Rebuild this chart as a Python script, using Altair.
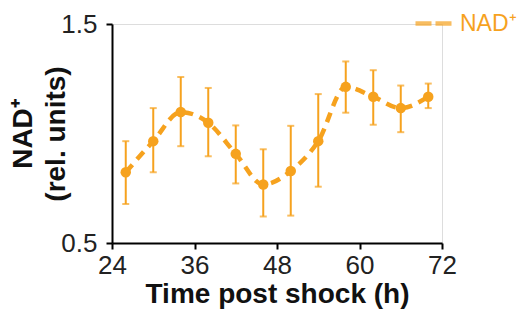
import altair as alt
import pandas as pd

time_h = [26, 30, 34, 38, 42, 46, 50, 54, 58, 62, 66, 70]
nad_mean = [0.823, 0.965, 1.098, 1.049, 0.907, 0.767, 0.829, 0.965, 1.213, 1.168, 1.116, 1.168]
nad_upper = [0.965, 1.116, 1.258, 1.208, 1.037, 0.928, 1.035, 1.180, 1.329, 1.289, 1.219, 1.228]
nad_lower = [0.678, 0.823, 0.942, 0.896, 0.772, 0.621, 0.625, 0.757, 1.095, 1.040, 1.006, 1.116]
series = ["NAD⁺"] * len(time_h)

x_ticks = [24, 36, 48, 60, 72]
y_ticks = [0.5, 1.5]

ORANGE = "#F6A21E"

df = pd.DataFrame({"t": time_h, "m": nad_mean, "hi": nad_upper, "lo": nad_lower, "s": series})

xs = alt.Scale(domain=[24, 72], nice=False, zero=False)
ys = alt.Scale(domain=[0.5, 1.5], nice=False, zero=False)
color = alt.Color("s:N", scale=alt.Scale(domain=["NAD⁺"], range=[ORANGE]),
                  legend=alt.Legend(title=None, orient="none", legendX=301, legendY=-21,
                                    padding=0,
                                    symbolType="stroke", symbolDash=[16, 4], symbolStrokeWidth=4.5,
                                    symbolSize=1296, symbolStrokeColor=ORANGE,
                                    labelColor=ORANGE, labelFontSize=23,
                                    labelFont="Liberation Sans", labelOffset=6))

x_enc = alt.X("t:Q", scale=xs,
              axis=alt.Axis(values=x_ticks, title="Time post shock (h)", tickSize=6,
                            labelFlush=False, labelPadding=3, titlePadding=2))
y_enc = alt.Y("m:Q", scale=ys,
              axis=alt.Axis(values=y_ticks, title=["NAD⁺", "(rel. units)"], tickSize=6,
                            labelPadding=9, titleLineHeight=33, titlePadding=-10))

base = alt.Chart(df).encode(x=x_enc, color=color)

line = base.mark_line(strokeDash=[10, 7], strokeWidth=4.5, interpolate="monotone").encode(y=y_enc)
points = base.mark_point(filled=True, size=110, opacity=1).encode(y="m:Q")
rules = base.mark_rule(strokeWidth=2).encode(y="lo:Q", y2="hi:Q")
cap_hi = base.mark_tick(thickness=2, size=7, orient="horizontal").encode(y="hi:Q")
cap_lo = base.mark_tick(thickness=2, size=7, orient="horizontal").encode(y="lo:Q")

chart = alt.layer(line, rules, cap_hi, cap_lo, points).properties(
    width=330, height=219,
    autosize=alt.AutoSizeParams(type="none"),
    padding={"left": 104, "top": 16, "right": 75, "bottom": 70},
).configure_view(stroke=None).configure(background="white").configure_axis(
    grid=False, domainColor="black", domainWidth=2, tickColor="black", tickWidth=2,
    labelFontSize=26, labelColor="#222", labelFont="Liberation Sans",
    titleFont="Liberation Sans", titleFontSize=28, titleFontWeight="bold", titleColor="#111",
)

chart.save("out.html", embed_options={"renderer": "svg", "actions": False})
